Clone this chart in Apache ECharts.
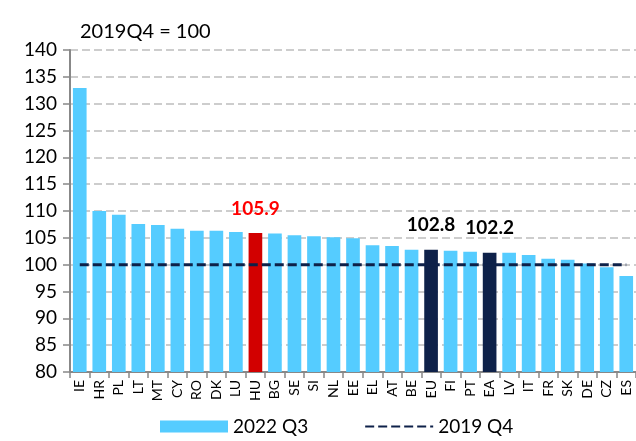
<!DOCTYPE html>
<html>
<head>
<meta charset="utf-8">
<script src="https://cdn.jsdelivr.net/npm/echarts@6/dist/echarts.min.js"></script>
<style>
html, body { margin: 0; padding: 0; background: #fff; }
#main { width: 636px; height: 441px; }
</style>
</head>
<body>
<div id="main"></div>
<script>
// 国家代码
var countries = ['IE','HR','PL','LT','MT','CY','RO','DK','LU','HU','BG','SE','SI','NL','EE','EL','AT','BE','EU','FI','PT','EA','LV','IT','FR','SK','DE','CZ','ES'];
// 2022 Q3 (2019Q4 = 100)
var q3_2022 = [132.9,110.0,109.3,107.6,107.4,106.7,106.3,106.3,106.1,105.9,105.8,105.5,105.3,105.1,104.9,103.6,103.5,102.8,102.8,102.6,102.4,102.2,102.2,101.8,101.1,100.9,100.2,99.5,97.9];
// 2019 Q4 基准线
var base_2019 = [100,100,100,100,100,100,100,100,100,100,100,100,100,100,100,100,100,100,100,100,100,100,100,100,100,100,100,100,100];
var yTicks = [80,85,90,95,100,105,110,115,120,125,130,135,140];

var font = 'Lato, "Open Sans", sans-serif';
var highlight = {
    HU: { color: '#d20000', label: '#ff0000' },
    EU: { color: '#0e2149', label: '#000000' },
    EA: { color: '#0e2149', label: '#000000' }
};

var barData = q3_2022.map(function (v, i) {
    var h = highlight[countries[i]];
    if (!h) return v;
    return {
        value: v,
        itemStyle: { color: h.color },
        label: {
            show: true, position: 'top', distance: 15,
            color: h.label, fontWeight: 'bold', fontSize: 19, fontFamily: font,
            formatter: function (p) { return p.value.toFixed(1); }
        }
    };
});

var myChart = echarts.init(document.getElementById('main'));
var option = {
    animation: false,
    textStyle: { fontFamily: font },
    title: {
        text: '2019Q4 = 100',
        left: 75, top: 17,
        textStyle: { fontSize: 20, fontWeight: 'normal', color: '#000', fontFamily: font }
    },
    legend: {
        bottom: 0, left: 155,
        itemWidth: 68, itemHeight: 12, itemGap: 56,
        textStyle: { fontSize: 19, color: '#000', fontFamily: font },
        data: [{ name: '2022 Q3', icon: 'rect' }, { name: '2019 Q4', itemStyle: { opacity: 0 } }]
    },
    grid: { left: 70, top: 50, bottom: 69, width: 575 },
    xAxis: {
        type: 'category',
        data: countries,
        axisLine: { lineStyle: { color: '#888', width: 2 } },
        axisTick: { show: true, length: 6, lineStyle: { color: '#888', width: 1.5 } },
        axisLabel: { rotate: 90, fontSize: 14, color: '#000', margin: 8, fontFamily: font }
    },
    yAxis: {
        type: 'value',
        min: yTicks[0], max: yTicks[yTicks.length - 1], interval: 5,
        axisLine: { show: true, lineStyle: { color: '#888', width: 2 } },
        axisTick: { show: true, length: 7, lineStyle: { color: '#888', width: 1.5 } },
        axisLabel: { fontSize: 19, color: '#000', margin: 13, fontFamily: font },
        splitLine: { lineStyle: { color: '#bdbdbd', width: 1.5, type: [8, 4] } }
    },
    series: [{
        name: '2022 Q3',
        type: 'bar',
        data: barData,
        barCategoryGap: '30%',
        itemStyle: { color: '#55ccff' }
    }, {
        name: '2019 Q4',
        type: 'line',
        data: base_2019,
        symbol: 'none',
        itemStyle: { color: '#0e2149' },
        lineStyle: { color: '#0e2149', width: 3, type: [9, 4] },
        z: 5
    }]
};
myChart.setOption(option);
</script>
</body>
</html>
